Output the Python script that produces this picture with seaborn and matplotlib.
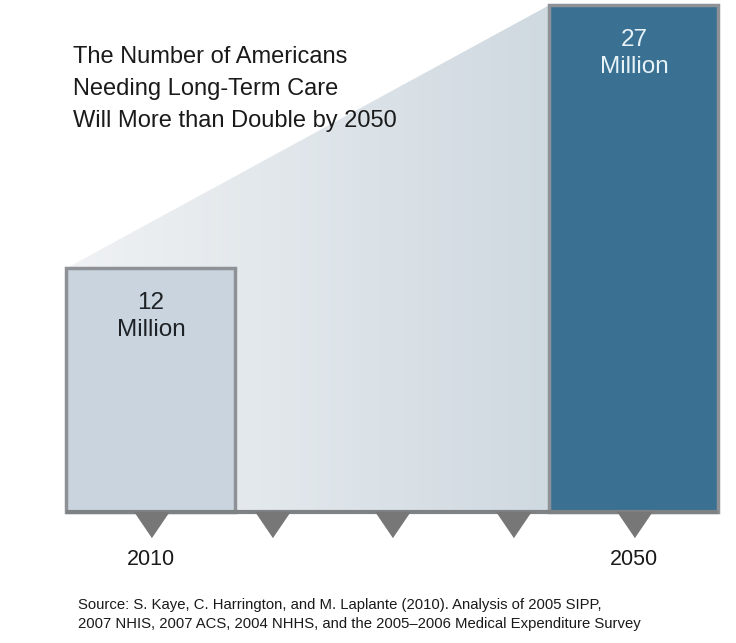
import numpy as np
import matplotlib.pyplot as plt
import seaborn as sns
from matplotlib.patches import Polygon
from matplotlib.colors import LinearSegmentedColormap

# Daten
years = [2010, 2050]
values = [12, 27]
value_labels = ["12\nMillion", "27\nMillion"]
tick_years = [2010, 2020, 2030, 2040, 2050]
year_labels = ["2010", "", "", "", "2050"]
title = "The Number of Americans\nNeeding Long-Term Care\nWill More than Double by 2050"
source = ("Source: S. Kaye, C. Harrington, and M. Laplante (2010). Analysis of 2005 SIPP,\n"
          "2007 NHIS, 2007 ACS, 2004 NHHS, and the 2005\u20132006 Medical Expenditure Survey")

sns.set_theme(style="white")
plt.rcParams["font.family"] = ["Liberation Sans", "DejaVu Sans"]

fig = plt.figure(figsize=(7.36, 6.43), dpi=100)
ax = fig.add_axes([0, 0, 1, 1])

floor = -1.9      # sichtbare Grundlinie (Grafik ist nicht maßstabsgetreu)
bar_w = 14
x0 = years[0] - bar_w / 2
x1 = years[1] - bar_w / 2

# Verlaufsfläche zwischen den Balken
grad = np.linspace(0, 1, 256).reshape(1, -1)
cmap = LinearSegmentedColormap.from_list("keil", ["#f0f2f4", "#cfd9e0"])
im = ax.imshow(grad, extent=[x0, x1, floor, values[1]], aspect="auto",
               cmap=cmap, zorder=1, interpolation="bilinear")
keil = Polygon([(x0, floor), (x0, values[0]), (x1, values[1]), (x1, floor)],
               closed=True, facecolor="none", edgecolor="none")
ax.add_patch(keil)
im.set_clip_path(keil)

# Balken
sns.barplot(x=years, y=np.array(values) - floor, bottom=floor,
            hue=[str(y) for y in years], palette=["#c9d4de", "#3a7193"],
            native_scale=True, width=0.35, legend=False, saturation=1,
            edgecolor="#8e9195", linewidth=2.5, ax=ax, zorder=2)

# Grundlinie und Dreiecke
ax.plot([x0, years[1] + bar_w / 2], [floor, floor], color="#7f8285",
        lw=3, solid_capstyle="butt", zorder=3)
tri = [(-17, 0), (17, 0), (0, -25)]
ax.plot(tick_years, [floor] * len(tick_years), linestyle="none",
        marker=tri, markersize=36, color="#777777", zorder=3, clip_on=False)

for x, lab in zip(tick_years, year_labels):
    ax.text(x, floor - 2.7, lab, ha="center", va="center",
            fontsize=15.5, color="#1a1a1a")

# Beschriftung in den Balken
label_colors = ["#1e2226", "#e8f3f8"]
for x, v, lab, c in zip(years, values, value_labels, label_colors):
    ax.text(x, v - 1.35, lab, ha="center", va="top", fontsize=17.5,
            color=c, linespacing=1.3, zorder=4)

ax.set_xlim(1997.5, 2058.45)
ax.set_ylim(-9.37, 27.29)
ax.axis("off")

fig.text(0.099, 0.929, title, ha="left", va="top", fontsize=17,
         color="#1a1a1a", linespacing=1.6)
fig.text(0.106, 0.045, source, ha="left", va="center", fontsize=10.7,
         color="#1a1a1a", linespacing=1.45)

fig.savefig("out.png", dpi=100, facecolor="white")
